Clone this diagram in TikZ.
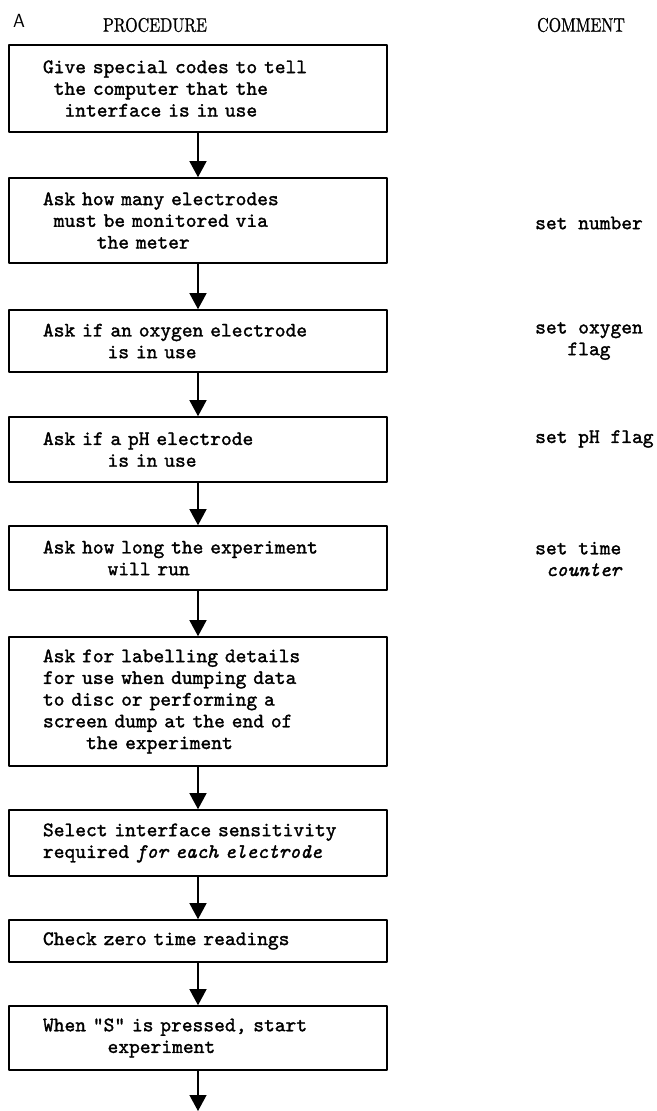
\documentclass[tikz,border=0pt]{standalone}
\usepackage{fontspec}
\newfontfamily\typer{lmmono10-regular.otf}[FakeBold=1.5,ItalicFont=lmmono10-italic.otf]
\newfontfamily\headfont{lmroman10-regular.otf}[FakeBold=1]
\usetikzlibrary{arrows.meta}
\tikzset{
  stepbox/.style={draw,line width=1.6pt,text width=310pt,inner xsep=34pt,inner ysep=0pt,align=left,font=\typer\fontsize{20.5}{21.7}\selectfont},
  flow/.style={line width=1.3pt,-{Triangle[width=17pt,length=16pt]}},
  note/.style={anchor=west,align=left,inner sep=0pt,font=\typer\fontsize{20.5}{21.7}\selectfont},
  head/.style={inner sep=0pt,font=\headfont\fontsize{19.5}{19.5}\selectfont},
}
\newcommand\ind[1]{\hphantom{#1}}
\begin{document}
\begin{tikzpicture}[x=1pt,y=-1pt,line join=round,line cap=round]
				\useasboundingbox (0,0) rectangle (656,1111);
				\node[inner sep=0pt,font=\sffamily\fontsize{19}{19}\selectfont] (part) at (19,21) {A};
				\node[head] (proc) at (155,25) {\scalebox{0.82}[1]{PROCEDURE}};
				\node[head] (comm) at (581,25) {\scalebox{0.82}[1]{COMMENT}};
				\node[stepbox,minimum height=87pt] (s1) at (198,88.5) {Give special codes to tell\\\ind{x}the computer that the\\\ind{xx}interface is in use};
				\node[stepbox,minimum height=85pt] (s2) at (198,220.5) {Ask how many electrodes\\\ind{x}must be monitored via\\\ind{xxxxx}the meter};
				\node[stepbox,minimum height=62pt] (s3) at (198,341) {Ask if an oxygen electrode\\\ind{xxxxxx}is in use};
				\node[stepbox,minimum height=65pt] (s4) at (198,449.5) {Ask if a pH electrode\\\ind{xxxxxx}is in use};
				\node[stepbox,minimum height=64pt] (s5) at (198,558) {Ask how long the experiment\\\ind{xxxxxx}will run};
				\node[stepbox,minimum height=129pt] (s6) at (198,701.5) {Ask for labelling details\\for use when dumping data\\to disc or performing a\\screen dump at the end of\\\ind{xxxx}the experiment};
				\node[stepbox,minimum height=66pt] (s7) at (198,843) {Select interface sensitivity\\required {\itshape for each electrode}};
				\node[stepbox,minimum height=42pt] (s8) at (198,941) {Check zero time readings};
				\node[stepbox,minimum height=64pt] (s9) at (198,1038) {When "S" is pressed, start\\\ind{xxxxxx}experiment};
				\coordinate (out) at (198,1111);
				\node[note] (c2) at (535,223) {set number};
				\node[note] (c3) at (535,341) {set oxygen\\\ind{xxx}flag};
				\node[note] (c4) at (535,439) {set pH flag};
				\node[note] (c5) at (535,559) {set time\\\ind{x}{\itshape counter}};
				\draw[flow] (s1)--(s2);
				\draw[flow] (s2)--(s3);
				\draw[flow] (s3)--(s4);
				\draw[flow] (s4)--(s5);
				\draw[flow] (s5)--(s6);
				\draw[flow] (s6)--(s7);
				\draw[flow] (s7)--(s8);
				\draw[flow] (s8)--(s9);
				\draw[flow] (s9)--(out);
			\end{tikzpicture}
\end{document}
